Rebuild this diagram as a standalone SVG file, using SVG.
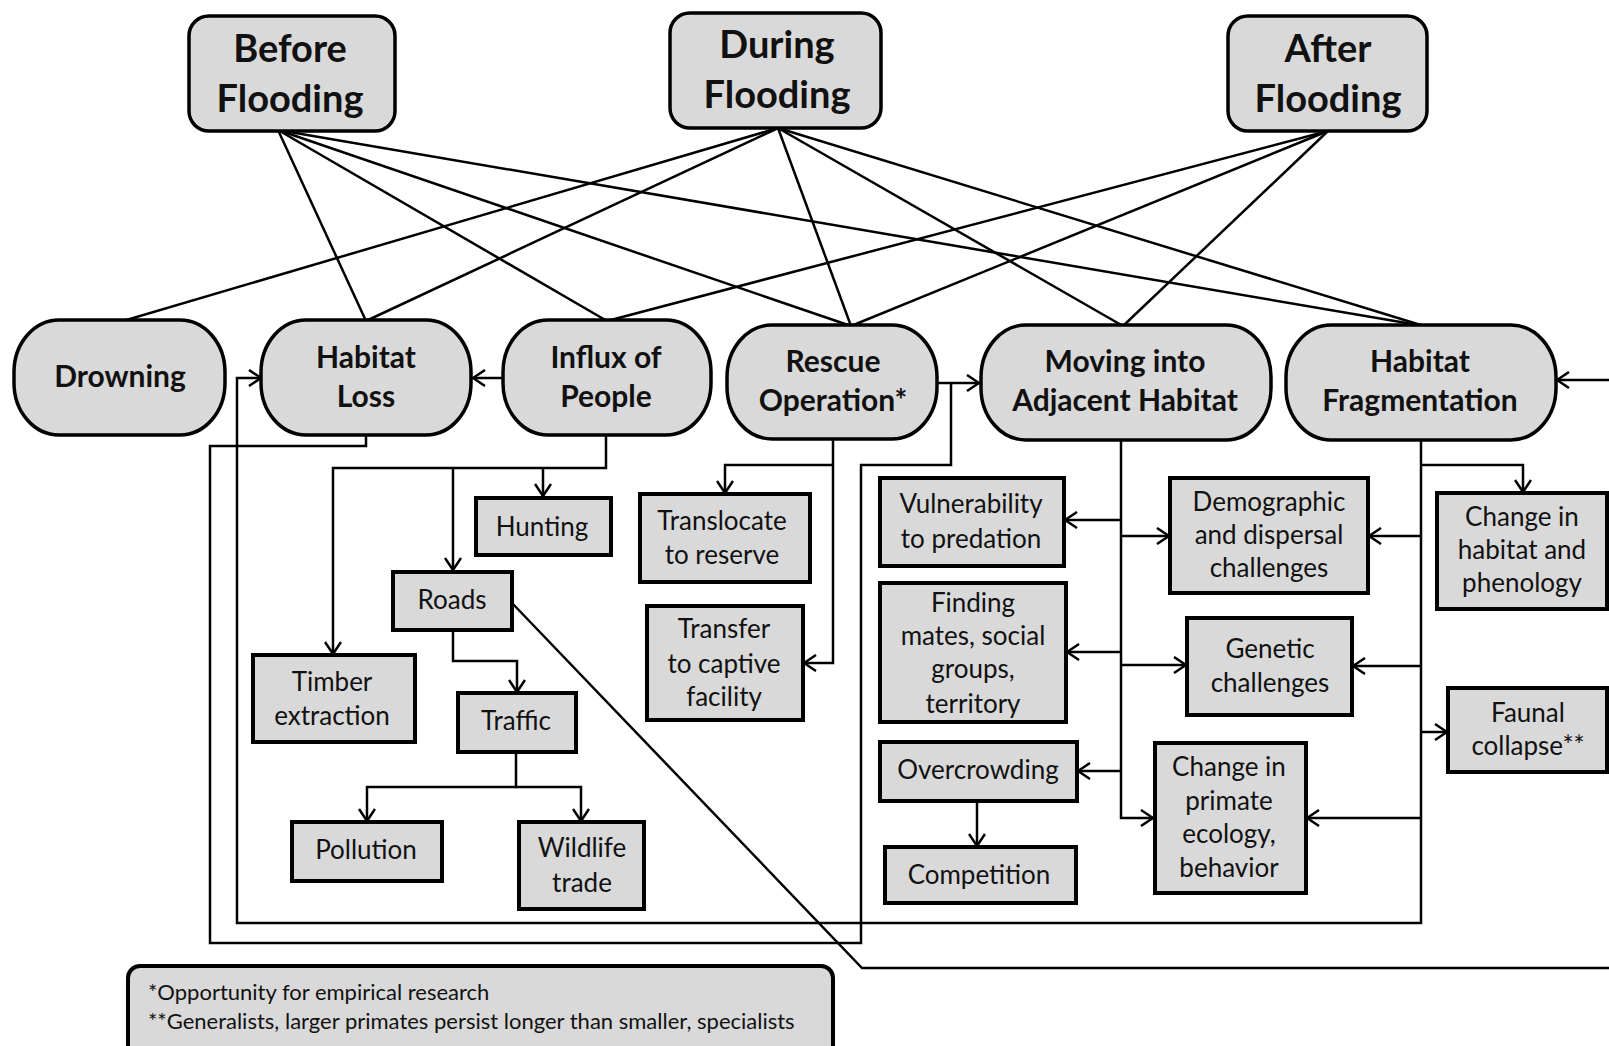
<svg xmlns="http://www.w3.org/2000/svg" width="1609" height="1046" viewBox="0 0 1609 1046">
<style>
.top rect{fill:#d9d9d9;stroke:#000;stroke-width:3.5}
.mid rect{fill:#d9d9d9;stroke:#000;stroke-width:3.5}
.box rect{fill:#d9d9d9;stroke:#000;stroke-width:4}
text{font-family:Lato,"Open Sans","Liberation Sans",sans-serif;fill:#111;text-anchor:middle}
.top text{font-weight:bold;font-size:38px}
.mid text{font-weight:bold;font-size:30px}
.box text{font-size:26px}
.leg text{font-size:22px;text-anchor:start}
.c path{fill:none;stroke:#000;stroke-width:2.5}
.c .a{marker-end:url(#ar)}
</style>
<defs>
<marker id="ar" viewBox="0 0 14 18" refX="13" refY="9" markerWidth="14" markerHeight="18" markerUnits="userSpaceOnUse" orient="auto">
<path d="M1,1 L13,9 L1,17" fill="none" stroke="#000" stroke-width="2.5"/>
</marker>
</defs>
<rect width="1609" height="1046" fill="#fff"/>

<g class="c" id="connectors">
<path d="M278,130 L366,321"/>
<path d="M278,130 L607,321"/>
<path d="M278,130 L851,326"/>
<path d="M278,130 L1424,326"/>
<path d="M778,128 L123,321"/>
<path d="M778,128 L366,321"/>
<path d="M778,128 L851,326"/>
<path d="M778,128 L1123,326"/>
<path d="M778,128 L1424,326"/>
<path d="M1328,131 L607,321"/>
<path d="M1328,131 L851,326"/>
<path d="M1328,131 L1123,326"/>
<path class="a" d="M503,378 L473,378"/>
<path class="a" d="M938,383 L979,383"/>
<path class="a" d="M1421,439 L1421,923 L237,923 L237,378 L261,378"/>
<path d="M366,435 L366,446 L210,446 L210,943 L861,943 L861,465 L951,465 L951,383"/>
<path class="a" d="M512,603 L862,968 L1625,968 L1625,380 L1557,380"/>
<path class="a" d="M606,435 L606,468 L333,468 L333,654"/>
<path class="a" d="M453,468 L453,570"/>
<path class="a" d="M543,468 L543,496"/>
<path class="a" d="M453,630 L453,661 L517,661 L517,692"/>
<path class="a" d="M516,752 L516,787 L367,787 L367,821"/>
<path class="a" d="M516,787 L581,787 L581,821"/>
<path class="a" d="M833,439 L833,663 L804,663"/>
<path class="a" d="M833,465 L725,465 L725,493"/>
<path class="a" d="M1121,440 L1121,818 L1153,818"/>
<path class="a" d="M1121,520 L1065,520"/>
<path class="a" d="M1121,536 L1169,536"/>
<path class="a" d="M1121,652 L1067,652"/>
<path class="a" d="M1121,665 L1186,665"/>
<path class="a" d="M1121,771 L1078,771"/>
<path class="a" d="M977,801 L977,846"/>
<path class="a" d="M1421,465 L1523,465 L1523,492"/>
<path class="a" d="M1421,536 L1369,536"/>
<path class="a" d="M1421,666 L1353,666"/>
<path class="a" d="M1421,732 L1447,732"/>
<path class="a" d="M1421,818 L1307,818"/>
</g>

<g class="top" id="before"><rect x="189" y="16" width="206" height="115" rx="20"/><text x="290" y="62">Before</text><text x="290" y="112">Flooding</text></g>
<g class="top" id="during"><rect x="670" y="13" width="211" height="115" rx="20"/><text x="777" y="58">During</text><text x="777" y="108">Flooding</text></g>
<g class="top" id="after"><rect x="1228" y="16" width="199" height="115" rx="20"/><text x="1328" y="62">After</text><text x="1328" y="112">Flooding</text></g>

<g class="mid" id="drowning"><rect x="14" y="320" width="211" height="115" rx="45" ry="52"/><text x="120" y="387">Drowning</text></g>
<g class="mid" id="habitat-loss"><rect x="261" y="320" width="210" height="115" rx="45" ry="52"/><text x="366" y="368">Habitat</text><text x="366" y="407">Loss</text></g>
<g class="mid" id="influx"><rect x="503" y="320" width="208" height="115" rx="45" ry="52"/><text x="606" y="368">Influx of</text><text x="606" y="407">People</text></g>
<g class="mid" id="rescue"><rect x="727" y="325" width="210" height="114" rx="45" ry="52"/><text x="833" y="372">Rescue</text><text x="833" y="411">Operation*</text></g>
<g class="mid" id="moving"><rect x="981" y="325" width="290" height="115" rx="45" ry="52"/><text x="1125" y="372">Moving into</text><text x="1125" y="411">Adjacent Habitat</text></g>
<g class="mid" id="fragmentation"><rect x="1286" y="325" width="270" height="115" rx="45" ry="52"/><text x="1420" y="372">Habitat</text><text x="1420" y="411">Fragmentation</text></g>

<g class="box" id="hunting"><rect x="476" y="498" width="135" height="57"/><text x="542" y="536">Hunting</text></g>
<g class="box" id="roads"><rect x="393" y="572" width="119" height="58"/><text x="452" y="609">Roads</text></g>
<g class="box" id="timber"><rect x="253" y="655" width="162" height="87"/><text x="332" y="691">Timber</text><text x="332" y="725">extraction</text></g>
<g class="box" id="traffic"><rect x="458" y="693" width="118" height="59"/><text x="516" y="730">Traffic</text></g>
<g class="box" id="pollution"><rect x="292" y="822" width="150" height="59"/><text x="366" y="859">Pollution</text></g>
<g class="box" id="wildlife"><rect x="519" y="822" width="125" height="87"/><text x="582" y="857">Wildlife</text><text x="582" y="892">trade</text></g>
<g class="box" id="translocate"><rect x="640" y="494" width="170" height="88"/><text x="722" y="530">Translocate</text><text x="722" y="564">to reserve</text></g>
<g class="box" id="transfer"><rect x="647" y="606" width="156" height="114"/><text x="724" y="638">Transfer</text><text x="724" y="673">to captive</text><text x="724" y="706">facility</text></g>
<g class="box" id="vulnerability"><rect x="880" y="478" width="184" height="88"/><text x="971" y="513">Vulnerability</text><text x="971" y="548">to predation</text></g>
<g class="box" id="finding"><rect x="880" y="583" width="186" height="139"/><text x="973" y="612">Finding</text><text x="973" y="645">mates, social</text><text x="973" y="678">groups,</text><text x="973" y="713">territory</text></g>
<g class="box" id="overcrowding"><rect x="880" y="742" width="197" height="59"/><text x="978" y="779">Overcrowding</text></g>
<g class="box" id="competition"><rect x="885" y="847" width="191" height="56"/><text x="979" y="884">Competition</text></g>
<g class="box" id="demographic"><rect x="1170" y="478" width="198" height="115"/><text x="1269" y="511">Demographic</text><text x="1269" y="544">and dispersal</text><text x="1269" y="577">challenges</text></g>
<g class="box" id="genetic"><rect x="1187" y="618" width="165" height="97"/><text x="1270" y="658">Genetic</text><text x="1270" y="692">challenges</text></g>
<g class="box" id="primate"><rect x="1155" y="743" width="151" height="150"/><text x="1229" y="776">Change in</text><text x="1229" y="810">primate</text><text x="1229" y="843">ecology,</text><text x="1229" y="877">behavior</text></g>
<g class="box" id="phenology"><rect x="1437" y="493" width="170" height="116"/><text x="1522" y="526">Change in</text><text x="1522" y="559">habitat and</text><text x="1522" y="592">phenology</text></g>
<g class="box" id="faunal"><rect x="1448" y="688" width="159" height="84"/><text x="1528" y="722">Faunal</text><text x="1528" y="755">collapse**</text></g>

<g class="leg" id="legend"><rect x="128" y="966" width="705" height="110" rx="12" fill="#d9d9d9" stroke="#000" stroke-width="4"/><text x="148" y="1000">*Opportunity  for empirical research</text><text x="148" y="1029">**Generalists,  larger primates persist  longer than smaller, specialists</text></g>
</svg>
